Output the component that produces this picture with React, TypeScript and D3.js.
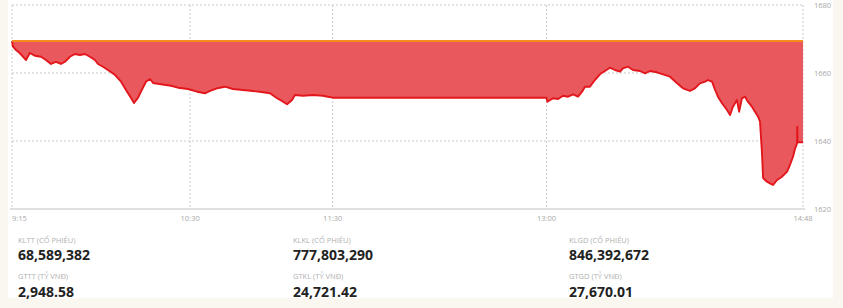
import React from "react";
import * as d3 from "d3";

// Index level reference (previous close)
const referenceValue = 1669.4;

// Minutes elapsed since 9:15 (lunch break 11:30-13:00 included on the time axis)
const minutesSinceOpen = [
  0, 0.4, 1.7, 3.2, 4.6, 5.9, 7.5, 9.6, 12.2, 14.3, 16.4, 18.5, 20.6, 22.3, 24.4, 26.5, 28.6, 30.7,
  32.8, 34.9, 36.2, 38.3, 40.4, 43.4, 45.9, 48.0, 50.1, 51.4, 53.0, 54.3, 56.4, 58.1, 59.4, 62.7,
  66.9, 69.9, 74.1, 77.9, 81.2, 83.4, 86.3, 89.7, 93.0, 97.2, 101.5, 105.7, 108.6, 111.6, 114.1,
  115.8, 117.9, 119.1, 122.5, 126.7, 130.9, 133.0, 135,
  225, 225.4, 227.8, 229.9, 232.0, 234.1, 236.2, 238.3, 240.0, 241.2, 243.3, 245.4, 247.5, 249.6,
  251.7, 253.8, 256.0, 257.2, 259.4, 261.4, 264.4, 266.5, 268.6, 271.5, 274.1, 277.0, 280.0, 282.5,
  285.4, 287.5, 289.6, 291.8, 293.0, 294.7, 296.0, 297.2, 298.9, 301.0, 302.3, 303.5, 305.2, 306.1,
  307.3, 308.6, 309.8, 311.5, 312.8, 314.1, 314.9, 315.7, 316.2, 317.8, 319.1, 320.4, 322.1, 324.2,
  326.3, 327.5, 328.8, 329.7, 330.5, 330.6, 330.7, 333,
];

// VN-Index values
const indexValues = [
  1669.41, 1667.74, 1666.76, 1665.88, 1664.79, 1663.82, 1665.88, 1665.09, 1664.79, 1663.82, 1662.65,
  1663.24, 1662.65, 1663.32, 1664.79, 1665.59, 1665.29, 1665.59, 1664.79, 1663.82, 1662.65, 1661.85,
  1660.88, 1659.41, 1657.44, 1655.0, 1652.65, 1651.18, 1652.65, 1654.5, 1657.44, 1658.24, 1657.06,
  1656.68, 1656.26, 1655.68, 1655.29, 1654.5, 1654.03, 1654.71, 1655.5, 1655.97, 1655.29, 1655.0,
  1654.71, 1654.32, 1654.03, 1652.56, 1651.56, 1650.79, 1652.06, 1653.53, 1653.32, 1653.53, 1653.32,
  1653.03, 1652.74,
  1652.74, 1651.56, 1652.56, 1652.35, 1653.32, 1653.03, 1653.74, 1653.03, 1654.5, 1655.97, 1655.97,
  1657.94, 1659.62, 1660.59, 1661.56, 1660.88, 1660.38, 1661.38, 1661.85, 1660.88, 1660.59, 1659.91,
  1660.59, 1660.21, 1659.62, 1658.91, 1656.97, 1655.5, 1654.71, 1655.5, 1656.97, 1657.44, 1657.94,
  1657.44, 1655.0, 1653.03, 1651.09, 1649.12, 1647.65, 1650.09, 1652.06, 1648.62, 1652.56, 1653.03,
  1651.56, 1650.09, 1648.62, 1647.15, 1645.68, 1636.85, 1629.12, 1628.03, 1627.56, 1627.06, 1628.53,
  1629.5, 1630.97, 1632.94, 1635.38, 1637.85, 1639.32, 1644.21, 1639.62, 1639.62,
];

const timeTickLabels = ["9:15", "10:30", "11:30", "13:00", "14:48"];
const valueTicks = [1620, 1640, 1660, 1680];

const statLabels = [
  ["KLTT (CỔ PHIẾU)", "GTTT (TỶ VNĐ)"],
  ["KLKL (CỔ PHIẾU)", "GTKL (TỶ VNĐ)"],
  ["KLGD (CỔ PHIẾU)", "GTGD (TỶ VNĐ)"],
];
const statValues = [
  ["68,589,382", "2,948.58"],
  ["777,803,290", "24,721.42"],
  ["846,392,672", "27,670.01"],
];

const toMinutes = (s: string) => {
  const [h, m] = s.split(":").map(Number);
  return h * 60 + m - (9 * 60 + 15);
};

export default function App() {
  const W = 843;
  const H = 308;
  const left = 12;
  const right = 803;
  const top = 5;
  const bottom = 209;

  const x = d3.scaleLinear().domain([0, toMinutes("14:48")]).range([left, right]);
  const y = d3.scaleLinear().domain([1620, 1680]).range([bottom, top]);

  const data = minutesSinceOpen.map((t, i) => ({ t, v: indexValues[i] }));

  const area = d3
    .area<{ t: number; v: number }>()
    .x((d) => x(d.t))
    .y0(y(referenceValue))
    .y1((d) => y(d.v));
  const line = d3
    .line<{ t: number; v: number }>()
    .x((d) => x(d.t))
    .y((d) => y(d.v));

  const font = "'Open Sans', 'DejaVu Sans', sans-serif";
  const colX = [18, 293, 569];

  return (
    <svg
      width={W}
      height={H}
      style={{ position: "absolute", left: 0, top: 0, display: "block" }}
      fontFamily={font}
    >
      <rect x={0} y={0} width={W} height={H} fill="#faf7f1" />
      <rect x={8} y={0} width={825} height={298} fill="#ffffff" />

      {/* horizontal grid */}
      {valueTicks
        .filter((v) => v !== 1620)
        .map((v) => (
          <line
            key={"h" + v}
            x1={left}
            x2={right}
            y1={y(v)}
            y2={y(v)}
            stroke="#c9c9c9"
            strokeWidth={1}
            strokeDasharray="2,2"
          />
        ))}
      {/* vertical grid */}
      {timeTickLabels.map((s) => (
        <line
          key={"v" + s}
          x1={x(toMinutes(s))}
          x2={x(toMinutes(s))}
          y1={top}
          y2={bottom}
          stroke="#c9c9c9"
          strokeWidth={1}
          strokeDasharray="2,2"
        />
      ))}

      <path d={area(data) || ""} fill="#e8585c" />
      <path d={line(data) || ""} fill="none" stroke="#e3161c" strokeWidth={1.9} strokeLinejoin="round" />
      <line
        x1={left}
        x2={right}
        y1={y(referenceValue)}
        y2={y(referenceValue)}
        stroke="#f58a1f"
        strokeWidth={2}
      />

      {/* bottom axis */}
      <line x1={10} x2={805} y1={bottom} y2={bottom} stroke="#d6d6d6" strokeWidth={1.5} />

      {timeTickLabels.map((s, i) => (
        <text
          key={"tl" + s}
          x={i === 0 ? left : x(toMinutes(s))}
          y={221}
          fontSize={7.5}
          fill="#a8a8a8"
          textAnchor={i === 0 ? "start" : "middle"}
        >
          {s}
        </text>
      ))}
      {valueTicks.map((v) => (
        <text key={"yl" + v} x={814} y={y(v) + 2.5} fontSize={7.5} fill="#a8a8a8">
          {v}
        </text>
      ))}

      {statLabels.map((col, ci) =>
        col.map((lab, ri) => (
          <g key={"s" + ci + ri}>
            <text x={colX[ci]} y={243 + ri * 36} fontSize={7.5} fill="#b0b0b0">
              {lab}
            </text>
            <text
              x={colX[ci]}
              y={260 + ri * 37}
              fontSize={14}
              fontWeight={700}
              fill="#222222"
            >
              {statValues[ci][ri]}
            </text>
          </g>
        ))
      )}
    </svg>
  );
}
